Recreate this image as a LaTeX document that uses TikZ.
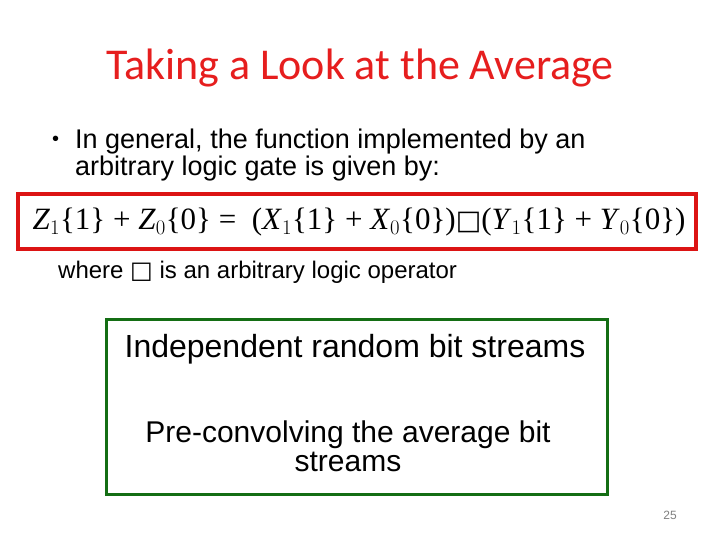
\documentclass[tikz,border=0pt]{standalone}
\usepackage{fontspec}
\setmainfont{Liberation Sans}
\newfontfamily\titlefont{Carlito}
\newfontfamily\timesf{Liberation Serif}
\newfontfamily\djv{DejaVu Sans}
\definecolor{tred}{RGB}{230,30,30}
\definecolor{bred}{RGB}{220,20,20}
\definecolor{dgreen}{RGB}{20,110,20}
\begin{document}
\begin{tikzpicture}[x=1pt,y=-1pt,
  txt/.style={inner sep=0pt,text=black}]
\useasboundingbox (0,0) rectangle (720,540);
\node[txt,text=tred,font=\titlefont\fontsize{44}{50}\selectfont] (title) at (360,68) {Taking a Look at the Average};
\node[txt,font=\fontsize{20}{24}\selectfont,anchor=west] (bul) at (52,141) {\textbullet};
\node[txt,font=\fontsize{27}{27}\selectfont,anchor=north west,align=left] (b1) at (75,129) {In general, the function implemented by an\\arbitrary logic gate is given by:};
\draw[bred,line width=4pt] (18,194) rectangle (696,249);
\node[txt,font=\timesf\fontsize{31}{36}\selectfont] (eq) at (359,222) {\textit{Z}$_1$\{1\} + \textit{Z}$_0$\{0\} = ~(\textit{X}$_1$\{1\} + \textit{X}$_0$\{0\})\djv\fontsize{27}{30}\selectfont □\timesf\fontsize{31}{36}\selectfont(\textit{Y}$_1$\{1\} + \textit{Y}$_0$\{0\})};
\node[txt,font=\fontsize{24}{28}\selectfont,anchor=west] (where) at (58,272) {where {\djv □} is an arbitrary logic operator};
\draw[dgreen,line width=3pt] (106,319) rectangle (607,494);
\node[txt,font=\fontsize{32}{36}\selectfont] (ind) at (355,349) {Independent random bit streams};
\node[txt,font=\fontsize{30}{29}\selectfont,align=center] (pre) at (348,446) {Pre-convolving the average bit\\streams};
\node[txt,text=gray,font=\fontsize{12}{14}\selectfont] (pg) at (670,515) {25};
\end{tikzpicture}
\end{document}
